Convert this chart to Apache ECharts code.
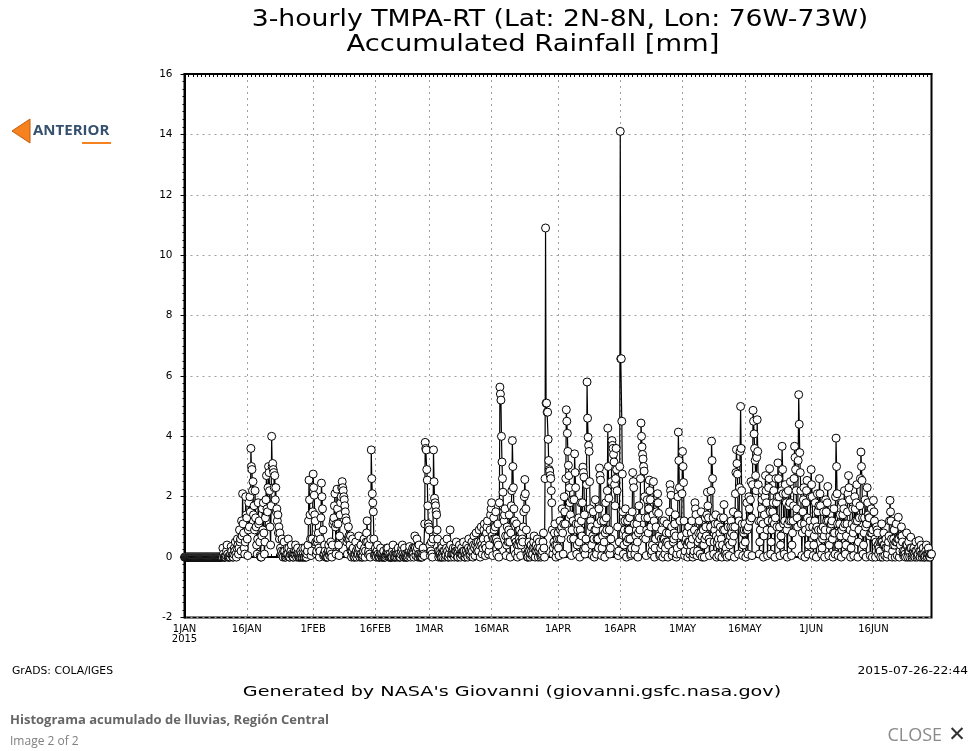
<!DOCTYPE html>
<html><head><meta charset="utf-8">
<script src="https://cdn.jsdelivr.net/npm/echarts@6/dist/echarts.min.js"></script>
<style>html,body{margin:0;padding:0;background:#fff}#chart{width:971px;height:751px}</style>
</head><body><div id="chart"></div>
<script>
// ---- 3-hourly time steps from 1 JAN 2015 00Z ----
const startDate = Date.UTC(2015, 0, 1);
const stepHours = 3;
const monthAbbr = ['JAN','FEB','MAR','APR','MAY','JUN','JUL'];

// tick labels of the x axis (day offsets from 1 JAN 2015)
const tickDays = [0, 15, 31, 46, 59, 74, 90, 105, 120, 135, 151, 166];
const tickLabels = ['1JAN\n2015','16JAN','1FEB','16FEB','1MAR','16MAR','1APR','16APR','1MAY','16MAY','1JUN','16JUN'];

// y axis
const yMin = -2, yMax = 16, yStep = 2;

// ---- rainfall values [mm], 8 per day (00Z..21Z) ----
const janVals = [
  0,0,0,0,0,0,0,0, 0,0,0,0,0,0,0,0, 0,0,0,0,0,0,0,0,
  0,0,0,0,0,0,0,0, 0,0,0,0,0,0,0,0, 0,0,0,0,0,0,0,0,
  0,0,0,0,0,0,0,0, 0,0,0,0,0,0,0,0, 0,0,0,0,0,0,0,0,
  0,0,0.3,0.1,0,0,0,0,
  0.05,0.2,0.4,0.1,0,0,0,0.05,
  0,0.1,0.35,0.2,0.05,0,0,0.1,
  0.3,0.2,0.5,0.1,0,0.3,0.6,0.4,
  0.1,0.3,0.9,0.5,0.6,0.2,1.2,0.7,
  2.1,1.1,0.8,0.3,0.1,0.5,2.0,1.4,
  1.3,0.6,0.05,0.9,1.8,1.0,2.0,1.5,
  3.6,3.0,2.9,2.2,2.5,1.4,1.7,0.9,
  2.2,1.3,1.0,0.4,0.1,0.6,1.8,1.1,
  1.2,0.5,0.05,0,0,0.7,1.6,0.9,
  1.8,0.8,0.1,0.5,1.3,1.9,2.7,1.6,
  1.5,2.3,3.0,2.8,2.2,1.0,0.4,1.7,
  4.0,3.0,3.1,2.9,2.8,2.3,2.7,1.9,
  2.3,1.5,1.6,1.2,1.4,0.8,1.0,0.6,
  0.8,0.3,0.1,0.2,0.6,0.1,0,0.2,
  0.5,0.2,0,0,0.05,0.1,0.3,0.1,
  0.6,0.3,0,0,0.1,0.2,0.4,0.1,
  0.05,0,0,0.1,0.2,0.1,0.4,0.2,
  0,0.1,0.3,0.1,0,0,0.1,0,
  0.2,0.1,0,0,0.3,0.1,0,0,
  0.3,0.1,0,0,0.1,0.2,0.4,1.2,
  2.55,1.9,1.4,0.6,0.05,0.2,0.6,1.5
];
const febVals = [
  2.75,2.3,2.05,1.4,1.2,0.5,0.1,0.2,
  0.5,0.6,0.8,0.3,0,0.2,0.6,1.3,
  2.45,2.0,1.6,0.9,0.05,0.1,0.4,0.2,
  0,0,0.1,0,0,0.2,0.4,0.1,
  0.05,0.2,0.5,0.1,0,0.4,1.1,1.2,
  1.3,1.7,2.1,1.0,0.1,1.1,2.25,1.6,
  1.1,0.4,0.05,0.7,1.4,1.8,2.0,2.3,
  2.5,2.3,2.2,2.0,1.9,1.7,1.5,1.3,
  1.2,0.5,0.1,0.6,1.0,0.7,0.6,0.4,
  0.7,0.2,0,0.2,0.6,0.3,0.05,0,
  0,0.1,0.5,0.2,0,0.1,0.3,0.1,
  0.7,0.3,0,0.1,0.4,0.1,0,0,
  0.05,0.2,0.6,0.3,0,0.2,0.5,0.8,
  1.2,0.5,0.1,0.2,0.4,0.1,0,0.6,
  3.55,2.6,2.1,1.8,1.5,0.6,0.05,0.1,
  0.3,0.1,0,0.2,0.4,0.1,0,0,
  0,0.1,0.3,0.1,0,0,0.1,0,
  0.2,0,0,0,0.05,0.1,0.3,0.1,
  0.3,0.1,0,0,0.1,0,0,0,
  0,0.2,0.4,0.1,0,0,0.1,0,
  0.2,0.1,0,0.1,0.3,0.1,0,0,
  0,0.1,0.2,0.3,0.4,0.1,0,0,
  0.3,0.1,0,0,0.1,0,0,0.1,
  0.05,0.2,0.35,0.1,0,0.1,0.2,0.1,
  0.3,0.1,0,0.3,0.7,0.3,0.05,0.2,
  0.6,0.3,0,0.1,0.4,0.1,0,0,
  0.1,0,0,0.1,0.3,0.1,0.05,1.1,
  3.8,3.6,3.55,2.9,2.55,1.7,1.1,1.0
];
const marVals = [
  0.9,0.4,0.05,0.2,0.5,0.1,0,0.6,
  3.55,2.5,1.95,1.8,1.7,1.5,1.4,0.9,
  0.6,0.2,0,0.1,0.2,0.1,0,0,
  0.3,0.1,0,0.2,0.5,0.2,0,0.1,
  0.05,0.3,0.6,0.2,0,0,0.1,0.3,
  0.9,0.4,0,0.1,0.2,0.1,0.3,0.1,
  0,0.1,0.3,0.2,0.5,0.2,0,0,
  0.2,0.3,0.4,0.1,0,0.1,0.3,0.1,
  0.05,0.2,0.5,0.2,0,0,0.1,0.2,
  0.4,0.1,0,0.3,0.6,0.2,0.05,0.1,
  0.2,0.3,0.5,0.2,0,0.4,0.7,0.3,
  0.05,0.4,0.8,0.5,0.2,0.3,0.5,0.2,
  0.9,0.4,0,0.5,1.0,0.4,0.1,0.3,
  0.6,0.9,1.1,0.4,0.05,0.3,0.8,1.0,
  1.2,0.6,0.1,0.2,0.4,0.9,1.4,1.6,
  1.8,0.7,0.05,0.6,1.3,0.9,0.6,1.0,
  1.5,0.6,0.1,0.5,1.1,0.4,0,1.8,
  5.63,5.4,5.2,4.0,3.15,2.6,2.15,1.5,
  1.2,1.4,1.6,0.7,0.05,0.4,1.0,0.7,
  0.5,0.9,1.4,0.5,0,0.8,1.7,2.2,
  3.86,3.0,2.3,1.6,1.2,0.6,0.1,0.5,
  1.1,0.4,0,0.2,0.4,0.6,0.9,0.5,
  0.05,0.4,0.8,0.6,0.5,1.0,1.5,2.0,
  2.57,2.1,1.6,0.9,0.1,0,0,0.2,
  0.5,0.2,0,0.1,0.4,0.2,0.05,0.1,
  0.3,0.5,0.7,0.3,0,0.2,0.4,0.2,
  0.6,0.3,0,0.2,0.5,0.3,0.1,0,
  0.05,0.1,0.2,0.5,0.8,0.3,0,2.6,
  10.9,5.1,5.1,4.8,4.8,3.9,3.2,2.9,
  2.85,2.7,2.6,2.2,1.8,0.9,0.1,0.3,
  0.5,0.8,1.1,0.4,0,0.2,0.4,0.6
];
const aprVals = [
  0.8,0.3,0.05,0.6,1.2,0.9,0.6,1.0,
  1.6,0.8,0.1,1.1,2.0,1.5,1.1,2.6,
  4.88,4.5,4.1,3.5,3.04,2.7,2.3,1.8,
  1.4,0.6,0.05,0.9,1.9,1.2,0.6,1.9,
  3.42,2.8,2.3,1.1,0.1,0.4,0.9,1.1,
  1.3,0.5,0,0.9,1.8,1.2,0.7,1.8,
  2.98,2.8,2.65,1.4,0.1,0.3,0.6,2.4,
  5.8,4.6,3.97,3.7,3.5,2.5,1.6,1.2,
  1.0,0.4,0.05,0.7,1.5,0.6,0,0.9,
  1.9,0.9,0.1,0.6,1.1,0.6,0.3,1.6,
  2.95,2.7,2.55,1.2,0.05,0.3,0.7,0.9,
  1.2,0.5,0,0.8,1.8,1.3,0.9,2.2,
  4.27,3.0,1.95,0.9,0.1,0.3,0.6,2.5,
  3.86,3.7,3.6,3.4,3.15,2.4,1.7,2.6,
  3.6,2.9,2.2,1.0,0.05,0.2,0.5,3.0,
  14.1,6.57,6.57,4.5,2.75,1.5,0.1,0.4,
  0.9,1.2,1.6,0.7,0,0.5,1.2,0.9,
  0.6,0.9,1.3,0.6,0.05,0.1,0.3,1.5,
  2.8,2.5,2.3,1.1,0.1,0.3,0.7,0.9,
  1.1,0.5,0,0.8,1.7,1.3,0.9,2.6,
  4.44,4.0,3.65,3.4,3.25,3.0,2.85,2.0,
  1.3,0.6,0.05,0.9,1.9,1.3,0.8,1.6,
  2.55,2.2,1.9,1.0,0.1,0.2,0.4,1.4,
  2.5,1.2,0,0.3,0.6,1.0,1.5,1.8,
  2.1,1.8,1.45,0.7,0.05,0.1,0.3,0.6,
  0.9,0.4,0,0.6,1.2,0.6,0.1,0.3,
  0.5,0.8,1.1,0.5,0,0.4,0.8,1.5,
  2.4,2.2,2.05,1.0,0.05,0.2,0.5,0.6,
  0.8,1.1,1.4,0.7,0,0.1,0.3,2.0,
  4.14,3.2,2.3,1.2,0.1,0.4,0.7,2.1
];
const mayVals = [
  3.5,3.0,2.47,1.2,0.05,0.2,0.5,0.6,
  0.8,0.4,0,0.5,1.0,0.5,0.1,0.2,
  0.4,0.8,1.2,0.6,0,0.1,0.2,0.9,
  1.8,1.6,1.41,0.7,0.05,0.2,0.5,0.8,
  1.2,0.6,0.1,0.8,1.5,0.7,0,0.4,
  0.9,0.4,0,0.6,1.3,1.0,0.7,1.4,
  2.15,1.7,1.3,0.6,0.05,0.5,1.0,2.2,
  3.84,3.2,2.6,1.3,0.1,0.5,0.9,1.1,
  1.4,0.7,0,0.5,1.1,0.6,0.05,0.4,
  0.8,1.0,1.3,0.6,0,0.4,0.9,1.3,
  1.74,0.9,0.1,0.2,0.3,0.1,0,0.5,
  1.0,0.5,0.05,0.4,0.7,1.0,1.2,0.8,
  0.5,1.0,1.5,0.7,0,1.0,2.1,2.8,
  3.56,3.1,2.75,1.4,0.1,1.2,2.3,3.5,
  4.99,3.6,2.2,1.1,0.05,0.4,0.8,0.9,
  1.1,0.5,0,0.9,1.8,0.9,0.1,1.0,
  2.0,1.6,1.2,1.9,2.5,1.3,0.05,2.4,
  4.86,4.5,4.08,3.6,3.2,2.7,2.2,3.3,
  4.55,3.5,2.4,1.2,0.1,0.5,0.9,1.2,
  1.6,1.9,2.2,1.1,0,0.7,1.4,2.0,
  2.7,2.2,1.8,0.9,0.05,1.2,2.3,2.6,
  2.93,1.5,0.1,0.5,0.9,1.2,1.5,1.8,
  2.2,1.1,0,1.3,2.6,1.8,1.0,2.0,
  3.12,2.6,2.0,1.0,0.05,0.4,0.7,2.2,
  3.67,2.9,2.1,1.1,0.1,1.2,2.4,2.1,
  1.8,0.9,0,1.1,2.2,1.7,1.2,1.8,
  2.5,1.2,0.05,0.4,0.8,1.2,1.7,2.6,
  3.67,3.3,2.9,2.2,1.6,1.3,1.0,3.2,
  5.38,4.4,3.46,2.8,2.2,1.1,0.05,0.8,
  1.5,1.9,2.3,1.1,0,0.9,1.8,2.2,
  2.54,1.3,0.1,0.4,0.8,1.0,1.2,2.0
];
const junVals = [
  2.9,2.4,2.0,1.0,0.05,0.4,0.7,1.2,
  1.8,0.9,0,1.0,2.1,1.5,0.9,1.7,
  2.6,2.1,1.7,0.9,0.1,0.3,0.6,1.0,
  1.5,0.7,0,0.9,1.9,1.5,1.2,1.8,
  2.34,1.2,0.05,0.4,0.7,0.9,1.1,1.1,
  1.2,0.6,0,0.8,1.6,0.8,0.1,2.0,
  3.94,3.0,2.1,1.1,0.05,0.4,0.8,1.1,
  1.4,0.7,0,0.9,1.8,1.4,1.0,1.6,
  2.2,1.1,0.1,0.4,0.7,1.1,1.5,2.1,
  2.7,2.3,1.9,0.9,0,0.3,0.6,1.1,
  1.6,0.8,0.05,1.0,2.0,1.6,1.2,1.8,
  2.4,1.2,0,0.5,0.9,1.3,1.7,2.6,
  3.48,3.0,2.54,1.3,0.1,0.4,0.8,1.3,
  1.9,1.0,0,1.1,2.3,1.8,1.4,1.3,
  1.3,0.7,0.05,0.8,1.6,0.8,0,0.9,
  1.88,1.5,1.2,0.6,0,0.5,1.0,0.9,
  0.8,0.4,0.1,0.3,0.5,0.2,0,0.5,
  1.1,0.5,0,0.4,0.8,0.4,0.05,0.3,
  0.6,0.3,0,0.1,0.3,0.5,0.7,1.2,
  1.88,1.5,1.2,0.6,0,0.2,0.4,0.6,
  0.9,0.4,0,0.5,1.1,0.5,0.05,0.6,
  1.32,0.6,0,0.2,0.4,0.7,1.0,0.7,
  0.5,0.2,0.05,0.1,0.2,0.1,0,0.4,
  0.8,0.4,0,0.2,0.5,0.2,0,0.3,
  0.66,0.3,0,0.05,0.1,0.2,0.3,0.1,
  0,0.2,0.5,0.2,0,0.05,0.1,0.3,
  0.55,0.2,0,0.2,0.4,0.1,0,0.1,
  0.3,0.1,0,0,0.05,0.2,0.4,0.1,
  0,0.1,0.3,0.1,0,0,0.1,0.1,
  0.1
];

// ---- build series and categories ----
const rain = [].concat(janVals, febVals, marVals, aprVals, mayVals, junVals);
const stepsPerDay = 24 / stepHours;
const categories = rain.map((v, i) => {
  const d = new Date(startDate + i * stepHours * 3600e3);
  return d.getUTCDate() + monthAbbr[d.getUTCMonth()] + ' ' + String(d.getUTCHours()).padStart(2, '0') + 'Z';
});
const tickMap = {};
tickDays.forEach((d, k) => { tickMap[d * stepsPerDay] = tickLabels[k]; });

const chart = echarts.init(document.getElementById('chart'), null, {renderer: 'canvas'});
const axisFont = 'DejaVu Sans';
const gridCol = '#a0a0a0';

chart.setOption({
  animation: false,
  backgroundColor: '#fff',
  grid: {left: 184.5, right: 39.5, top: 74, bottom: 133.5, show: true, borderColor: '#000', borderWidth: 2, backgroundColor: 'transparent'},
  xAxis: [{
    type: 'category', data: categories, boundaryGap: false, position: 'bottom',
    axisLine: {show: true, lineStyle: {color: '#000', width: 2}},
    axisTick: {show: true, inside: true, length: 3, interval: (i) => i % stepsPerDay === 0, lineStyle: {color: '#000', width: 1}},
    axisLabel: {
      show: true, interval: (i) => tickMap[i] !== undefined,
      formatter: (val, i) => tickMap[i] || '',
      color: '#000', fontFamily: axisFont, fontSize: 10, lineHeight: 10, margin: 7
    },
    splitLine: {show: true, interval: (i) => tickMap[i] !== undefined && i > 0, lineStyle: {color: gridCol, type: [2, 4], width: 1}}
  }, {
    type: 'category', data: categories, boundaryGap: false, position: 'top',
    axisLine: {show: true, lineStyle: {color: '#000', width: 2}},
    axisTick: {show: true, inside: true, length: 3, interval: (i) => i % stepsPerDay === 0, lineStyle: {color: '#000', width: 1}},
    axisLabel: {show: false}, splitLine: {show: false}
  }],
  yAxis: [{
    type: 'value', min: yMin, max: yMax, interval: yStep,
    axisLine: {show: true, lineStyle: {color: '#000', width: 2}},
    axisTick: {show: true, length: 4, lineStyle: {color: '#000'}},
    minorTick: {show: true, splitNumber: 8, length: 2, lineStyle: {color: '#000'}},
    axisLabel: {color: '#000', fontFamily: axisFont, fontSize: 10.5, margin: 12},
    splitLine: {show: true, lineStyle: {color: gridCol, type: [2, 4], width: 1}}
  }],
  series: [{
    type: 'line', data: rain, xAxisIndex: 0, yAxisIndex: 0,
    symbol: 'circle', symbolSize: 8, showAllSymbol: true, sampling: null,
    lineStyle: {color: '#000', width: 1.2},
    itemStyle: {color: '#fff', borderColor: '#000', borderWidth: 1},
    emphasis: {disabled: true}, silent: true
  }],
  graphic: [
    {type: 'text', x: 560, y: 20, scaleX: 1.16, style: {text: '3-hourly TMPA-RT (Lat: 2N-8N, Lon: 76W-73W)', font: '23px "DejaVu Sans"', fill: '#000', textAlign: 'center', textVerticalAlign: 'middle'}},
    {type: 'text', x: 533, y: 45, scaleX: 1.19, style: {text: 'Accumulated Rainfall [mm]', font: '23px "DejaVu Sans"', fill: '#000', textAlign: 'center', textVerticalAlign: 'middle'}},
    {type: 'polygon', shape: {points: [[30, 119], [12, 131], [30, 143]]}, style: {fill: '#f5821f', stroke: '#c85d0a', lineWidth: 1}},
    {type: 'text', x: 33, y: 131, style: {text: 'ANTERIOR', font: 'bold 15px "Open Sans"', fill: '#36516f', textVerticalAlign: 'middle'}},
    {type: 'line', shape: {x1: 82, y1: 143, x2: 111, y2: 143}, style: {stroke: '#f5821f', lineWidth: 2}},
    {type: 'text', x: 12, y: 671, scaleX: 1.08, style: {text: 'GrADS: COLA/IGES', font: '10px "DejaVu Sans"', fill: '#000', textVerticalAlign: 'middle'}},
    {type: 'text', x: 968, y: 671, scaleX: 1.22, style: {text: '2015-07-26-22:44', font: '10px "DejaVu Sans"', fill: '#000', textAlign: 'right', textVerticalAlign: 'middle'}},
    {type: 'text', x: 512, y: 692, scaleX: 1.37, style: {text: "Generated by NASA's Giovanni (giovanni.gsfc.nasa.gov)", font: '14px "DejaVu Sans"', fill: '#000', textAlign: 'center', textVerticalAlign: 'middle'}},
    {type: 'text', x: 10, y: 720, style: {text: 'Histograma acumulado de lluvias, Región Central', font: 'bold 13px "Open Sans"', fill: '#666', textVerticalAlign: 'middle'}},
    {type: 'text', x: 10, y: 742, style: {text: 'Image 2 of 2', font: '12px "Open Sans"', fill: '#808080', textVerticalAlign: 'middle'}},
    {type: 'text', x: 942, y: 736, style: {text: 'CLOSE', font: '18px "Open Sans"', fill: '#8a8a8a', textAlign: 'right', textVerticalAlign: 'middle'}},
    {type: 'text', x: 957, y: 736, style: {text: '✕', font: 'bold 21px "DejaVu Sans"', fill: '#333', textAlign: 'center', textVerticalAlign: 'middle'}}
  ]
});
</script></body></html>
